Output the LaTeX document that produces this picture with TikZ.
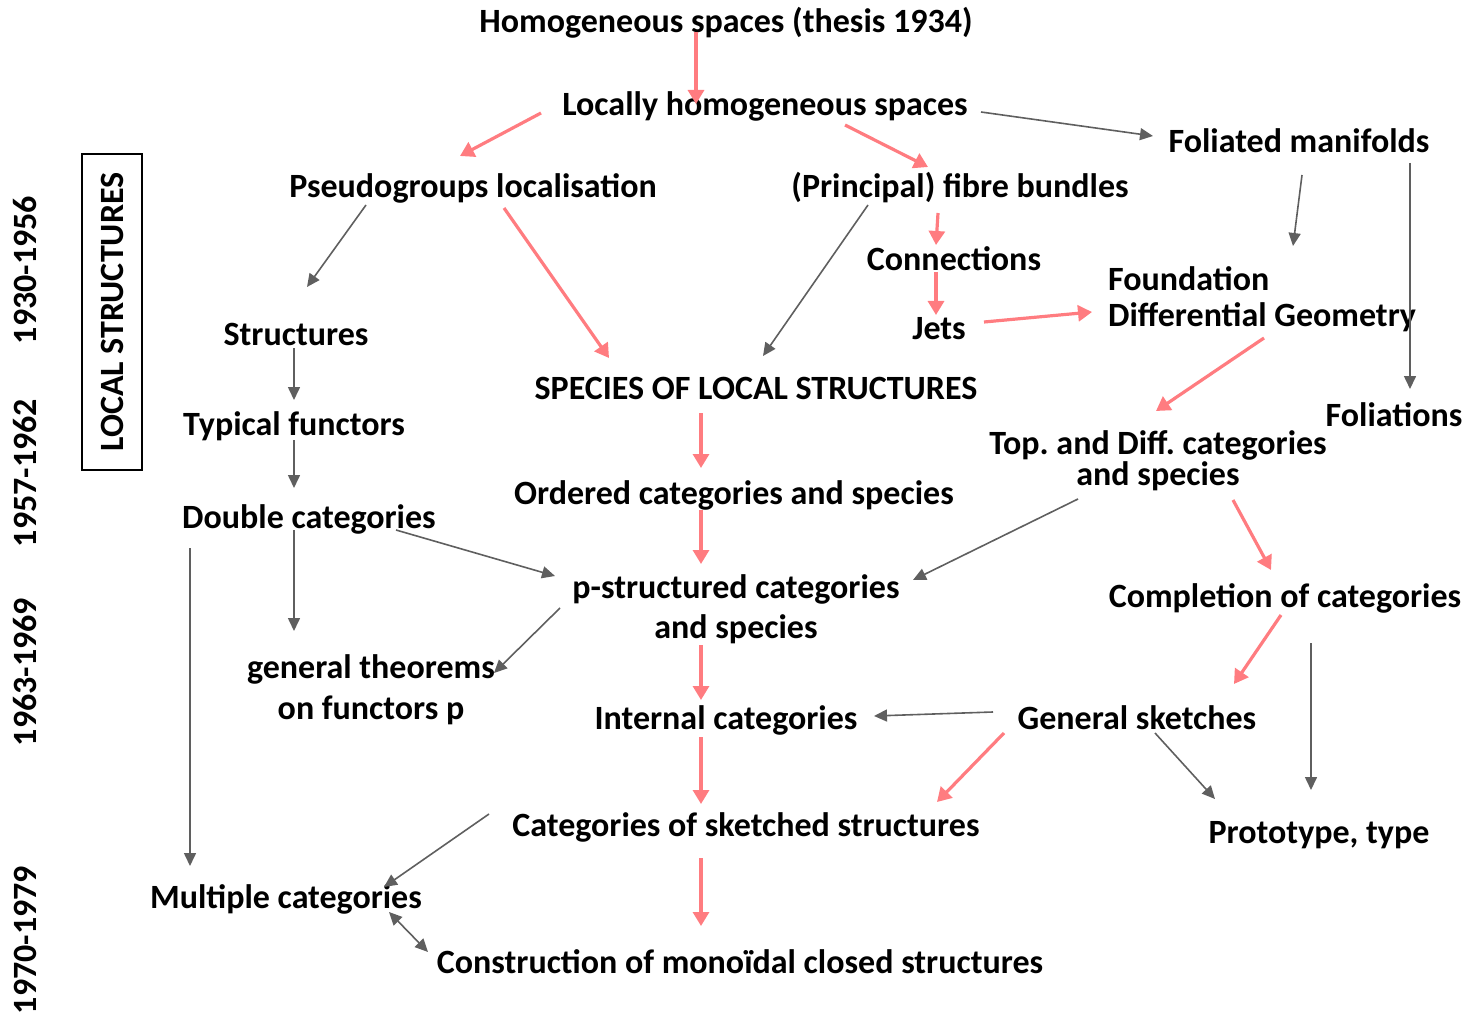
\documentclass[tikz,border=0pt]{standalone}
\usepackage{fontspec}
\setmainfont{Carlito}
\usetikzlibrary{arrows.meta}
\definecolor{salmon}{HTML}{FF7C80}
\definecolor{dgrey}{HTML}{5F5F5F}
\frenchspacing
\begin{document}
\begin{tikzpicture}[x=1pt,y=-1pt,
  lbl/.style={inner sep=0pt,font=\fontsize{34}{40}\selectfont\bfseries},
  yr/.style={lbl,rotate=90},
  redarr/.style={salmon,line width=3.2pt,-{Triangle[length=14pt,width=16pt]}},
  greyarr/.style={dgrey,line width=1.6pt,-{Triangle[length=13pt,width=12pt]}},
  greydbl/.style={dgrey,line width=1.6pt,{Triangle[length=13pt,width=12pt]}-{Triangle[length=13pt,width=12pt]}}]
\useasboundingbox (0,0) rectangle (1470,1016);
% nodes
\node[lbl] (hom) at (726,23) {Homogeneous spaces (thesis 1934)};
\node[lbl] (loc) at (765,106) {Locally homogeneous spaces};
\node[lbl] (fol) at (1299,141) {Foliated manifolds};
\node[lbl] (pseudo) at (473,188) {Pseudogroups localisation};
\node[lbl] (fibre) at (960,188) {(Principal) fibre bundles};
\node[lbl] (conn) at (954,259) {Connections};
\node[lbl,align=left,anchor=west,font=\fontsize{34}{36}\selectfont\bfseries] (found) at (1108,299) {Foundation\\Differential Geometry};
\node[lbl] (jets) at (939,329) {Jets};
\node[lbl] (struct) at (296,334) {Structures};
\node[lbl] (species) at (756,388) {SPECIES OF LOCAL STRUCTURES};
\node[lbl] (folns) at (1394,415) {Foliations};
\node[lbl] (typ) at (294,426) {Typical functors};
\node[lbl,align=center,font=\fontsize{34}{28}\selectfont\bfseries] (topdiff) at (1158,461) {Top. and Diff. categories\\and species};
\node[lbl] (ord) at (734,495) {Ordered categories and species};
\node[lbl] (dbl) at (309,519) {Double categories};
\node[lbl,align=center,font=\fontsize{34}{40}\selectfont\bfseries] (pstruct) at (736,609) {p-structured categories\\and species};
\node[lbl] (compl) at (1285,598) {Completion of categories};
\node[lbl,align=center,font=\fontsize{34}{41}\selectfont\bfseries] (gen) at (371,690) {general theorems\\on functors p};
\node[lbl] (intern) at (726,720) {Internal categories};
\node[lbl] (sketch) at (1137,718) {General sketches};
\node[lbl] (catsk) at (746,827) {Categories of sketched structures};
\node[lbl] (proto) at (1319,835) {Prototype, type};
\node[lbl] (mult) at (286,899) {Multiple categories};
\node[lbl] (constr) at (740,962) {Construction of monoïdal closed structures};
% side labels
\node[yr] (y1) at (25,270) {1930-1956};
\node[yr] (y2) at (25,473) {1957-1962};
\node[yr] (y3) at (25,672) {1963-1969};
\node[yr] (y4) at (25,940) {1970-1979};
\node[yr,draw,line width=1.6pt,minimum width=316pt,minimum height=60pt] (localbox) at (112,312) {LOCAL STRUCTURES};
% connector end points
\coordinate (r1s) at (696,32);   \coordinate (r1e) at (696,104);
\coordinate (r2s) at (541,113);  \coordinate (r2e) at (460,156);
\coordinate (r3s) at (845,125);  \coordinate (r3e) at (928,167);
\coordinate (r4s) at (504,208);  \coordinate (r4e) at (609,358);
\coordinate (r5s) at (938,213);  \coordinate (r5e) at (936,245);
\coordinate (r6s) at (936,272);  \coordinate (r6e) at (936,315);
\coordinate (r7s) at (984,322);  \coordinate (r7e) at (1092,312);
\coordinate (r8s) at (1264,338); \coordinate (r8e) at (1156,411);
\coordinate (r9s) at (701,413);  \coordinate (r9e) at (701,468);
\coordinate (r10s) at (701,510); \coordinate (r10e) at (701,564);
\coordinate (r11s) at (1233,500);\coordinate (r11e) at (1271,570);
\coordinate (r12s) at (701,645); \coordinate (r12e) at (701,700);
\coordinate (r13s) at (1281,615);\coordinate (r13e) at (1234,684);
\coordinate (r14s) at (701,737); \coordinate (r14e) at (701,804);
\coordinate (r15s) at (1004,733);\coordinate (r15e) at (937,802);
\coordinate (r16s) at (701,858); \coordinate (r16e) at (701,926);
\coordinate (g1s) at (981,112);  \coordinate (g1e) at (1153,136);
\coordinate (g2s) at (1302,175); \coordinate (g2e) at (1293,246);
\coordinate (g3s) at (1410,163); \coordinate (g3e) at (1410,389);
\coordinate (g4s) at (366,205);  \coordinate (g4e) at (307,287);
\coordinate (g5s) at (868,205);  \coordinate (g5e) at (763,356);
\coordinate (g6s) at (294,348);  \coordinate (g6e) at (294,400);
\coordinate (g7s) at (294,440);  \coordinate (g7e) at (294,488);
\coordinate (g8s) at (396,530);  \coordinate (g8e) at (555,576);
\coordinate (g9s) at (294,530);  \coordinate (g9e) at (294,631);
\coordinate (g10s) at (190,548); \coordinate (g10e) at (190,866);
\coordinate (g11s) at (1078,499);\coordinate (g11e) at (913,580);
\coordinate (g12s) at (560,608); \coordinate (g12e) at (494,673);
\coordinate (g13s) at (993,712); \coordinate (g13e) at (874,716);
\coordinate (g14s) at (1155,733);\coordinate (g14e) at (1215,799);
\coordinate (g15s) at (1311,643);\coordinate (g15e) at (1311,790);
\coordinate (g16s) at (489,814); \coordinate (g16e) at (384,887);
\coordinate (g17s) at (389,912); \coordinate (g17e) at (428,952);
% red connectors
\foreach \i in {1,...,16} {\draw[redarr] (r\i s) -- (r\i e);}
% grey connectors
\foreach \i in {1,...,16} {\draw[greyarr] (g\i s) -- (g\i e);}
\draw[greydbl] (g17s) -- (g17e);
\end{tikzpicture}
\end{document}
